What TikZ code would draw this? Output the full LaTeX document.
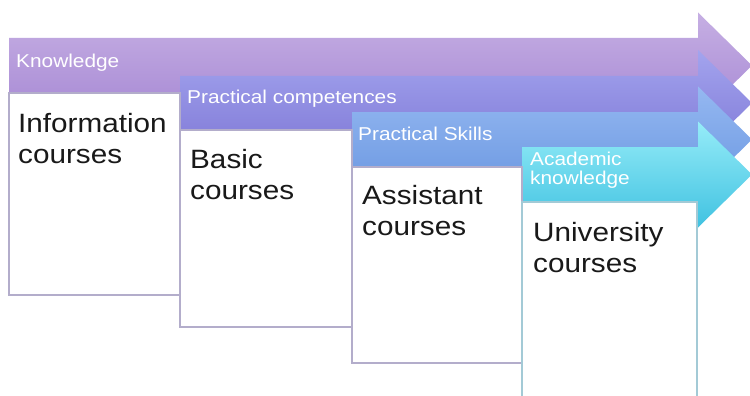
\documentclass[tikz,border=0pt]{standalone}
\usepackage{fontspec}
\setmainfont{Liberation Sans}[FakeStretch=1.12]
\definecolor{aoneT}{HTML}{C6AFE3}
\definecolor{aoneB}{HTML}{A688D4}
\definecolor{atwoT}{HTML}{A3A4EE}
\definecolor{atwoB}{HTML}{7F78D6}
\definecolor{athrT}{HTML}{95B8F1}
\definecolor{athrB}{HTML}{6A97E1}
\definecolor{afouT}{HTML}{96ECF8}
\definecolor{afouB}{HTML}{40C2E1}
\definecolor{boxborder}{HTML}{B3ADCB}
\definecolor{boxborderc}{HTML}{A3CAD6}
\begin{document}
\begin{tikzpicture}[x=1pt,y=-1pt,
  lbl/.style={anchor=base west, inner sep=0pt, text=white, font=\fontsize{18.6}{19}\selectfont, align=left},
  btxt/.style={anchor=base west, inner sep=0pt, text=black!90, font=\fontsize{26.5}{31}\selectfont, align=left},
  crsbox/.style={draw=boxborder, fill=white, line width=1.2pt, anchor=north west, inner sep=0pt, outer sep=0pt},
]
\useasboundingbox[fill=white] (0,0) rectangle (750,396);
% arrows
\newcommand{\bigarrow}[5]{%
  \path[top color=#4, bottom color=#5] (#1,#2) -- (698,#2) -- (698,{(#2+#3)/2-53}) -- (752,{(#2+#3)/2}) -- (698,{(#2+#3)/2+53}) -- (698,#3) -- (#1,#3) -- cycle;}
\bigarrow{9}{38}{93}{aoneT}{aoneB}
\bigarrow{180}{76}{130}{atwoT}{atwoB}
\bigarrow{352}{112}{167}{athrT}{athrB}
\bigarrow{522}{147}{202}{afouT}{afouB}
% boxes
\node[crsbox, minimum width=171pt, minimum height=202pt] (box1) at (9,93) {};
\node[crsbox, minimum width=172pt, minimum height=197pt] (box2) at (180,130) {};
\node[crsbox, minimum width=170pt, minimum height=196pt] (box3) at (352,167) {};
\node[crsbox, draw=boxborderc, minimum width=175pt, minimum height=200pt] (box4) at (522,202) {};
% labels (multi-line nodes: base = last line)
\node[lbl] (l1) at (16,68) {Knowledge};
\node[lbl] (l2) at (187,103) {Practical competences};
\node[lbl] (l3) at (358,140) {Practical Skills};
\node[lbl] (l4) at (530,184) {Academic\\knowledge};
% box texts
\node[btxt] (t1) at (18,163) {Information\\courses};
\node[btxt] (t2) at (190,199) {Basic\\courses};
\node[btxt] (t3) at (362,235) {Assistant\\courses};
\node[btxt] (t4) at (533,272) {University\\courses};
\end{tikzpicture}
\end{document}
